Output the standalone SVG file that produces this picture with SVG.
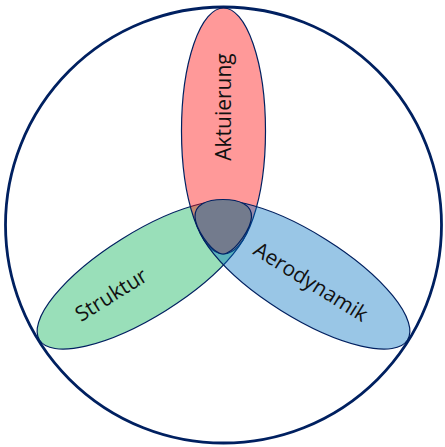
<svg xmlns="http://www.w3.org/2000/svg" width="445" height="447" viewBox="0 0 445 447">
  <style>
    .frame { fill: #ffffff; stroke: #002060; stroke-width: 2.8; }
    .petal { stroke: #002060; stroke-width: 1.2; fill-opacity: 0.4; }
    .label { font-family: "Open Sans", "Noto Sans", sans-serif; font-size: 21px; fill: #111111; text-anchor: middle; }
  </style>
  <rect x="0" y="0" width="445" height="447" fill="#ffffff"/>
  <g id="frame">
    <circle class="frame" cx="223.5" cy="225" r="218"/>
  </g>
  <g id="struktur">
    <ellipse class="petal" fill="#00B050" cx="223.5" cy="131" rx="42" ry="123" transform="rotate(-122 223.5 225)"/>
  </g>
  <g id="aktuierung">
    <ellipse class="petal" fill="#FF0000" cx="223.5" cy="131" rx="42" ry="123"/>
  </g>
  <g id="aerodynamik">
    <ellipse class="petal" fill="#0070C0" cx="223.5" cy="131" rx="42" ry="123" transform="rotate(122 223.5 225)"/>
  </g>
  <g id="center">
    <path d="M 223 199.5 C 240 199.5 252 205 251.5 217 C 251 229 236 249 227 253 Q 223 255 219 253 C 210 249 195.5 229 195 217 C 194.5 205 206 199.5 223 199.5 Z" fill="#737B8D" stroke="#002060" stroke-width="1.2"/>
  </g>
  <g id="labels">
    <text class="label" transform="translate(231 107) rotate(-90)">Aktuierung</text>
    <text class="label" transform="translate(115 301) rotate(-32)">Struktur</text>
    <text class="label" transform="translate(307 288) rotate(32)">Aerodynamik</text>
  </g>
</svg>
